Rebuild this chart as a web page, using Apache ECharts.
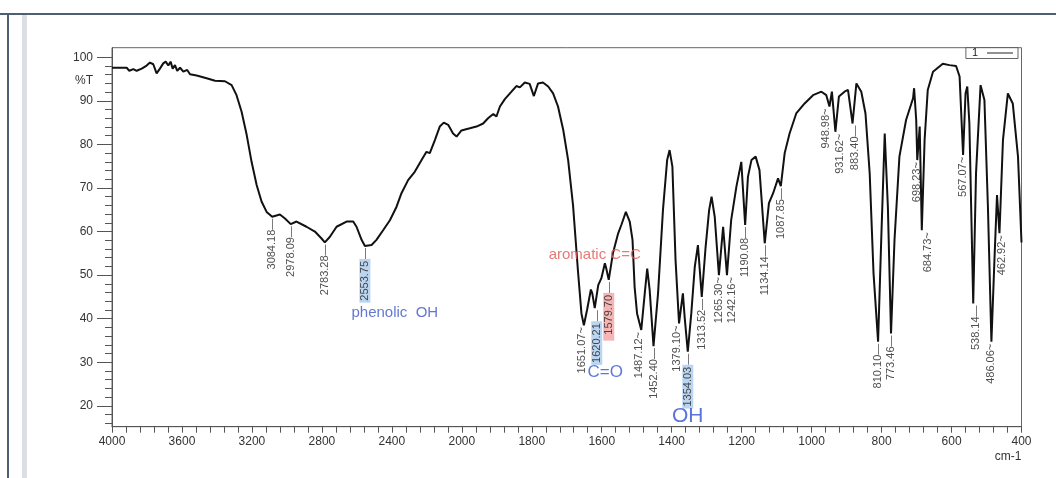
<!DOCTYPE html>
<html>
<head>
<meta charset="utf-8">
<script src="https://cdn.jsdelivr.net/npm/echarts@6/dist/echarts.min.js"></script>
<style>
html,body{margin:0;padding:0;background:#fff;}
#chart{width:1056px;height:478px;}
</style>
</head>
<body>
<div id="chart"></div>
<script>
// ---- data ----
const wavenumbers = [4000,3916,3901,3878,3859,3830,3802,3783,3764,3745,3726,3707,3693,3678,3665,3653,3640,3627,3611,3592,3570,3554,3516,3459,3411,3354,3316,3288,3259,3230,3202,3173,3145,3116,3084,3040,3011,2978,2945,2888,2840,2802,2783,2754,2716,2659,2621,2602,2573,2554,2516,2488,2450,2411,2373,2345,2307,2269,2230,2202,2183,2154,2126,2103,2078,2050,2030,2002,1977,1958,1939,1925,1910,1901,1891,1877,1858,1844,1834,1820,1806,1794,1782,1768,1753,1739,1725,1710,1696,1682,1668,1658,1651,1642,1631,1627,1620,1610,1601,1591,1587,1580,1568,1553,1544,1531,1520,1512,1506,1499,1487,1477,1470,1463,1452,1439,1425,1413,1406,1398,1389,1379,1368,1363,1354,1344,1334,1325,1314,1303,1293,1286,1277,1265,1253,1242,1230,1215,1201,1190,1182,1172,1160,1149,1134,1122,1110,1096,1088,1077,1063,1044,1020,996,972,958,949,942,932,922,906,896,883,872,858,846,834,823,810,801,791,782,773,763,749,730,710,707,701,698,691,685,677,668,653,625,606,587,577,567,560,555,549,538,530,517,506,496,486,477,470,463,453,439,425,410,400];
const transmittance = [97.6,97.6,96.9,97.3,96.9,97.4,98.1,98.8,98.4,96.3,97.4,98.6,99.0,98.1,99.0,97.4,98.2,96.9,97.6,96.7,97.1,96.1,95.8,95.2,94.6,94.5,93.6,91.3,87.5,82.2,76.0,70.7,66.9,64.5,63.4,63.9,63.0,61.7,62.3,61.1,60.0,58.4,57.5,58.8,61.1,62.3,62.3,61.1,58.1,56.7,56.9,58.1,60.3,62.6,65.7,68.8,71.8,73.7,76.4,78.3,78.0,81.0,84.1,85.0,84.5,82.5,81.8,83.2,83.7,84.1,84.8,86.0,87.0,86.4,88.7,90.4,92.1,93.4,93.1,94.2,93.9,91.1,94.0,94.2,93.3,91.7,88.7,83.3,76.4,66.0,51.0,41.2,38.5,42.0,46.7,45.8,42.4,47.7,49.3,52.7,51.5,48.9,55.0,59.6,61.5,64.5,62.3,58.1,47.3,41.2,37.4,45.8,51.5,46.6,33.7,45.8,64.9,76.4,78.7,74.9,53.5,38.9,45.8,40.4,32.4,41.2,51.9,56.9,45.0,56.5,64.9,68.0,63.4,50.0,61.1,50.0,62.6,70.3,76.0,61.5,72.6,76.4,77.2,74.1,57.3,66.5,68.8,72.2,70.4,78.0,82.5,87.1,89.4,91.3,92.1,91.3,88.7,92.1,82.9,91.0,92.1,92.5,84.8,94.0,92.1,87.1,73.4,50.4,34.7,58.1,82.5,65.7,36.6,58.1,77.2,85.6,90.6,92.9,85.6,76.4,84.1,60.3,81.0,92.5,96.7,98.5,98.2,98.0,95.6,77.6,91.7,93.3,84.8,43.5,73.4,93.6,90.2,65.7,34.7,54.2,68.4,59.6,81.0,91.7,89.4,77.2,57.5];

const peakLabels = ['3084.18','2978.09','2783.28','2553.75','1651.07','1620.21','1579.70','1487.12','1452.40','1379.10','1354.03','1313.52','1265.30','1242.16','1190.08','1134.14','1087.85','948.98','931.62','883.40','810.10','773.46','698.23','684.73','567.07','538.14','486.06','462.92'];
const peakWn = [3084,2978,2783,2554,1651,1620,1580,1487,1452,1379,1354,1314,1265,1242,1190,1134,1088,949,932,883,810,773,698,685,567,538,486,463];
const peakT = [63.4,61.7,57.5,56.7,38.5,42.4,48.9,37.4,33.7,38.9,32.4,45.0,50.0,50.0,61.5,57.3,70.4,88.7,82.9,84.8,34.7,36.6,76.4,60.3,77.6,43.5,34.7,59.6];
const peakLeader = ['—','—','—','—','~','—','—','~','—','~','—','—','~','~','—','—','—','~','~','—','—','—','~','~','~','—','~','~'];
const peakHighlight = ['','','','blue','','blue','red','','','','blue','','','','','','','','','','','','','','','','',''];

const annoTexts = ['phenolic  OH','aromatic C=C','C=O','OH'];
const annoWn = [2383,1620,1590,1354];
const annoT = [41.4,54.6,27.7,17.6];
const annoKind = ['phen','arom','co','oh'];

const xTickLabels = [4000,3600,3200,2800,2400,2000,1800,1600,1400,1200,1000,800,600,400];
const yTickLabels = [20,30,40,50,60,70,80,90,100];
const yName = '%T';
const xName = 'cm-1';
const seriesName = '1';

// ---- layout-only: sideways nudges (px, + = right) of crowded peak labels ----
const labelNudge = {'1651.07': -2, '1620.21': 2, '1487.12': -2, '1379.10': -2, '1242.16': 5,
  '948.98': -3, '931.62': 5, '883.40': 2, '684.73': 6, '538.14': 3, '462.92': 3};

// ---- piecewise wavenumber scale (4000-2000 compressed x2) ----
const toU = w => w >= 2000 ? (4000 - w) / 400 : 5 + (2000 - w) / 200;
const fromU = u => u <= 5 ? 4000 - 400 * u : 2000 - 200 * (u - 5);

const xMajor = xTickLabels.map(toU);
const xMinor = [];
for (let i = 0; i < xTickLabels.length - 1; i++) {
  for (let k = 0; k < 5; k++) xMinor.push(toU(xTickLabels[i] + (xTickLabels[i+1] - xTickLabels[i]) * k / 5));
}
xMinor.push(toU(xTickLabels[xTickLabels.length - 1]));
const yMinor = [];
for (let v = 16; v <= 100; v += 2) yMinor.push(v);
const Y_NAME_POS = 94.6;

const lineData = wavenumbers.map((w, i) => [toU(w), transmittance[i]]);

const hlStyles = {
  blue: {backgroundColor: '#aacbec', padding: [0, 2, 0, 2], fontSize: 11, color: '#222', fontFamily: 'Liberation Sans'},
  red: {backgroundColor: '#f2a3a3', padding: [0, 2, 0, 6], fontSize: 11, color: '#222', fontFamily: 'Liberation Sans'}
};
const peakData = peakWn.map((w, i) => ({
  name: peakLabels[i],
  value: [toU(w), peakT[i]],
  label: {
    offset: [0, labelNudge[peakLabels[i]] || 0],
    formatter: peakHighlight[i] ? '{' + peakHighlight[i] + '|' + peakLabels[i] + '}' + peakLeader[i] : peakLabels[i] + peakLeader[i]
  }
}));

const annoStyle = {
  phen: {color: '#3c55c6', fontSize: 15},
  arom: {color: '#e05858', fontSize: 15},
  co: {color: '#3557d4', fontSize: 17},
  oh: {color: '#2f50d2', fontSize: 21}
};
const annoData = annoWn.map((w, i) => ({
  name: annoTexts[i],
  value: [toU(w), annoT[i]],
  label: Object.assign({show: true, position: 'inside', formatter: '{b}', fontFamily: 'Liberation Sans'}, annoStyle[annoKind[i]])
}));

const chart = echarts.init(document.getElementById('chart'), null, {renderer: 'canvas'});
chart.setOption({
  backgroundColor: '#ffffff',
  animation: false,
  textStyle: {fontFamily: 'Liberation Sans'},
  graphic: [
    {type: 'rect', shape: {x: 22, y: 15, width: 5, height: 463}, style: {fill: '#dcdfe3'}, z: -1},
    {type: 'line', shape: {x1: 0, y1: 14, x2: 1056, y2: 14}, style: {stroke: '#4e5e76', lineWidth: 2}},
    {type: 'line', shape: {x1: 8, y1: 14, x2: 8, y2: 478}, style: {stroke: '#4e5e76', lineWidth: 2}}
  ],
  legend: {
    data: [seriesName],
    right: 38, top: 47.5,
    align: 'right',
    icon: 'rect',
    itemWidth: 26, itemHeight: 1,
    itemStyle: {color: '#222'},
    borderColor: '#666', borderWidth: 1, borderRadius: 0,
    padding: [0, 5, 0, 6],
    textStyle: {fontSize: 11, color: '#222', lineHeight: 11, padding: [0, 4, 0, 0]}
  },
  grid: {left: 112, right: 34.5, top: 47.7, bottom: 51.3, show: true, borderColor: '#666', borderWidth: 1, outerBoundsMode: 'none'},
  xAxis: [{
    type: 'value', min: 0, max: 13, position: 'bottom',
    name: xName, nameLocation: 'end', nameGap: 0,
    nameTextStyle: {align: 'right', verticalAlign: 'top', padding: [24, 0, 0, 0], fontSize: 12, color: '#333'},
    axisLine: {show: true, lineStyle: {color: '#555'}},
    axisTick: {show: true, customValues: xMinor, length: 6, lineStyle: {color: '#555'}},
    axisLabel: {customValues: xMajor, margin: 9, fontSize: 12, color: '#333',
      formatter: v => String(Math.round(fromU(v)))},
    splitLine: {show: false}
  }],
  yAxis: [{
    type: 'value', min: 15.2, max: 102.2, position: 'left',
    axisLine: {show: true, lineStyle: {color: '#555'}},
    axisTick: {show: true, customValues: yTickLabels, length: 15, lineStyle: {color: '#555'}},
    axisLabel: {customValues: yTickLabels.concat([Y_NAME_POS]), margin: 19, fontSize: 12, color: '#333',
      formatter: v => v === Y_NAME_POS ? yName : String(v)},
    splitLine: {show: false}
  }, {
    type: 'value', min: 15.2, max: 102.2, position: 'left',
    axisLine: {show: false},
    axisTick: {show: true, customValues: yMinor, length: 7, lineStyle: {color: '#555'}},
    axisLabel: {show: false},
    splitLine: {show: false}
  }],
  series: [{
    name: seriesName, type: 'line', data: lineData,
    showSymbol: false, symbol: 'none',
    lineStyle: {color: '#111', width: 2},
    itemStyle: {color: '#111'},
    z: 3
  }, {
    type: 'scatter', data: peakData, symbolSize: 0, silent: true, z: 4,
    label: {
      show: true, position: 'bottom', distance: 2, rotate: 90,
      align: 'right', verticalAlign: 'middle',
      fontSize: 11, color: '#222', fontFamily: 'Liberation Sans',
      rich: hlStyles
    }
  }, {
    type: 'scatter', data: annoData, symbolSize: 0, silent: true, z: 5
  }]
});
</script>
</body>
</html>
